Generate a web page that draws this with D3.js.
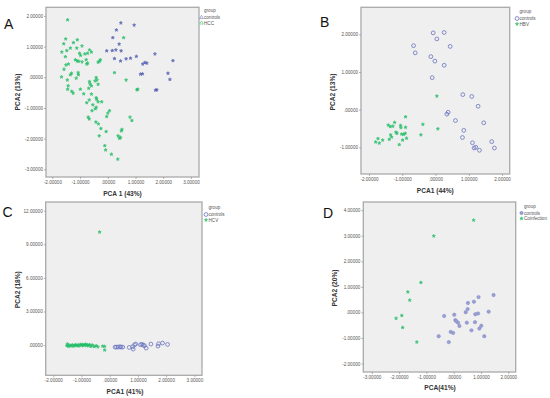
<!DOCTYPE html>
<html><head><meta charset="utf-8">
<script src="https://cdn.jsdelivr.net/npm/d3@7"></script>
<style>html,body{margin:0;padding:0;background:#fff;}svg{display:block;}</style>
</head><body>
<svg id="c" width="550" height="398"></svg>
<script>
// ---------- DATA ----------
const panelLetters = ["A", "B", "C", "D"];
const xTitles = ["PCA 1 (43%)", "PCA1 (44%)", "PCA1 (41%)", "PCA(41%)"];
const yTitles = ["PCA2 (13%)", "PCA2 (13%)", "PCA2 (18%)", "PCA2 (20%)"];
const groupNames = [["controls", "HCC"], ["controls", "HBV"], ["controls", "HCV"], ["controls", "Coinfection"]];

const aXTicks = [-2, -1, 0, 1, 2, 3];
const aYTicks = [2, 1, 0, -1, -2, -3];
const bXTicks = [-2, -1, 0, 1, 2];
const bYTicks = [2, 1, 0, -1];
const cXTicks = [-2, -1, 0, 1, 2, 3];
const cYTicks = [12, 9, 6, 3, 0];
const dXTicks = [-3, -2, -1, 0, 1, 2];
const dYTicks = [4, 3, 2, 1, 0, -1, -2];

const aControls = [[0.47,1.77],[0.95,1.70],[0.31,1.54],[0.18,1.29],[0.41,1.08],[-0.04,0.86],[0.16,0.87],[0.29,0.89],[0.48,0.86],[0.24,0.61],[0.46,0.53],[0.66,0.60],[0.82,0.62],[1.03,0.68],[1.70,0.76],[2.35,0.54],[1.26,0.43],[1.34,0.48],[1.41,0.46],[1.18,0.10],[1.25,0.11],[2.17,0.13],[2.24,-0.07],[1.72,-0.42],[1.77,-0.41]];
const aHCC = [[-1.45,1.87],[-1.52,1.25],[-1.10,1.22],[-1.59,1.09],[-1.24,1.13],[-1.35,0.95],[-1.12,0.95],[-0.93,1.02],[-1.48,0.87],[-1.66,0.82],[-0.66,0.89],[-0.59,0.82],[-0.73,0.78],[-1.02,0.78],[-0.98,0.71],[-0.83,0.76],[-1.53,0.67],[-1.17,0.57],[-1.11,0.53],[-1.05,0.52],[-0.78,0.57],[-0.73,0.46],[-0.76,0.43],[-0.93,0.50],[-1.51,0.40],[-1.42,0.43],[-0.27,0.57],[-0.30,0.52],[-0.35,0.49],[0.57,1.29],[-1.58,0.26],[-1.31,0.13],[-1.07,0.15],[-1.06,0.08],[-1.35,0.08],[-1.14,-0.03],[-1.67,0.01],[-1.46,-0.09],[-0.42,-0.01],[-0.39,-0.09],[-0.46,-0.12],[-0.66,-0.14],[-0.64,-0.22],[-0.59,-0.28],[-0.69,-0.36],[-0.35,-0.23],[-1.43,-0.28],[-1.45,-0.39],[-0.99,-0.39],[-1.30,-0.46],[-1.25,-0.52],[-0.87,-0.54],[-0.59,-0.55],[-0.76,-0.83],[-0.67,-0.74],[-0.40,-0.72],[-0.42,-0.67],[-0.35,-0.80],[-0.22,-0.80],[-0.54,-0.90],[-0.42,-0.98],[-0.57,-1.09],[-0.45,-1.03],[-0.71,-1.30],[-0.67,-1.36],[-0.43,-1.46],[-0.34,-1.52],[-0.25,-1.67],[-0.31,-1.91],[-0.06,-1.77],[0.00,-1.17],[0.06,-1.09],[-0.04,-1.28],[-0.11,-2.23],[-0.08,-2.37],[0.13,-2.51],[0.36,-2.67],[0.24,0.15],[0.66,-0.09],[1.08,-0.39],[1.05,-0.41],[0.80,-1.30],[0.87,-1.41],[0.37,-1.91],[0.42,-1.99],[0.46,-1.96],[0.51,-1.70],[0.49,-1.75]];

const bControls = [[-0.07,2.04],[0.26,2.05],[0.04,1.88],[0.44,1.68],[-0.66,1.70],[-0.61,1.51],[-0.14,1.41],[-0.02,1.29],[0.26,1.18],[-0.10,0.85],[0.82,0.40],[1.09,0.35],[1.28,0.09],[0.38,-0.07],[0.34,-0.12],[0.60,-0.29],[1.45,-0.35],[0.85,-0.55],[0.81,-0.74],[1.11,-0.88],[1.69,-0.85],[1.16,-1.02],[1.21,-1.00],[1.32,-1.08],[1.77,-1.02]];
const bHBV = [[0.04,0.36],[-0.90,-0.19],[-0.38,-0.39],[0.07,-0.51],[-0.44,-0.67],[-1.23,-0.34],[-1.42,-0.41],[-1.36,-0.45],[-1.28,-0.44],[-1.05,-0.42],[-1.04,-0.48],[-0.90,-0.47],[-1.19,-0.60],[-1.16,-0.63],[-1.35,-0.67],[-1.39,-0.79],[-1.02,-0.65],[-0.96,-0.66],[-0.91,-0.63],[-0.87,-0.76],[-0.99,-0.81],[-1.32,-0.73],[-1.09,-0.93],[-1.73,-0.77],[-1.80,-0.86],[-1.69,-0.89],[-1.59,-0.81]];

const cControls = [[0.19,-0.18],[0.24,-0.18],[0.30,-0.18],[0.36,-0.15],[0.40,-0.18],[0.46,-0.18],[0.69,-0.21],[0.81,-0.15],[0.83,-0.36],[0.88,0.03],[0.92,0.09],[1.09,0.03],[1.14,0.06],[1.19,0.00],[1.23,-0.06],[1.29,-0.27],[1.46,0.09],[1.71,-0.09],[1.73,0.12],[1.87,0.18],[2.05,0.06]];
const cHCV = [[-1.52,-0.05],[-1.50,0.10],[-1.46,-0.12],[-1.42,-0.02],[-1.37,-0.08],[-1.33,0.02],[-1.29,-0.10],[-1.25,-0.04],[-1.21,0.04],[-1.17,-0.06],[-1.13,0.00],[-1.09,-0.08],[-1.05,0.06],[-1.01,-0.02],[-0.97,0.05],[-0.94,-0.06],[-0.90,0.02],[-0.86,0.08],[-0.83,-0.04],[-0.79,0.03],[-0.75,-0.08],[-0.71,0.04],[-0.66,-0.12],[-0.61,0.00],[-0.55,-0.14],[-0.48,-0.06],[-0.42,-0.16],[-0.25,-0.10],[-0.18,-0.12],[-0.18,-0.45],[-0.36,10.09]];

const dControls = [[1.46,0.68],[0.91,0.60],[0.74,0.42],[0.52,0.37],[0.51,0.13],[0.44,0.01],[1.28,0.03],[0.79,-0.07],[0.89,-0.04],[-0.35,-0.14],[0.02,-0.09],[0.06,-0.30],[0.09,-0.34],[0.16,-0.40],[0.21,-0.53],[0.48,-0.40],[0.78,-0.38],[1.01,-0.52],[0.94,-0.63],[0.65,-0.70],[1.12,-0.93],[-0.55,-0.93],[-0.11,-0.76],[-0.02,-0.80],[-0.18,-1.16]];
const dCoinfection = [[0.73,3.61],[-0.73,2.99],[-1.20,1.17],[-1.68,0.80],[-1.61,0.48],[-1.90,-0.12],[-2.11,-0.23],[-1.87,-0.59],[-1.35,-1.16]];

// ---------- LAYOUT ----------
const svg = d3.select("#c");
const FONT = "'Liberation Sans', Arial, sans-serif";
const BLUE = "#4f5cb0", GREEN = "#22be66";

function fmt(v) {
  const s = Math.abs(v).toFixed(5);
  const t = s.startsWith("0") ? s.slice(1) : s;
  return (v < 0 ? "-" : "") + t;
}

const panels = [
  {letter: panelLetters[0], lx: 4, ly: 28.5, frame: [46, 7.3, 199, 177], xd: [-2.23, 3.29], yd: [-3.25, 2.28], xt: aXTicks, yt: aYTicks,
   xTitle: xTitles[0], yTitle: yTitles[0], xtPos: [122.5, 196], ytPos: [20, 92],
   legend: [200.5, 12], names: groupNames[0], ctrl: aControls, dis: aHCC, ctrlSym: "star", legSym: "tri"},
  {letter: panelLetters[1], lx: 320, ly: 27, frame: [361, 7.3, 509.7, 174], xd: [-2.24, 2.23], yd: [-1.71, 2.72], xt: bXTicks, yt: bYTicks,
   xTitle: xTitles[1], yTitle: yTitles[1], xtPos: [435.3, 192.5], ytPos: [334.5, 92],
   legend: [516, 13], names: groupNames[1], ctrl: bControls, dis: bHBV, ctrlSym: "ring", legSym: "ring"},
  {letter: panelLetters[2], lx: 2.5, ly: 216.5, frame: [45.7, 202, 202, 375.3], xd: [-2.27, 3.27], yd: [-2.7, 12.78], xt: cXTicks, yt: cYTicks,
   xTitle: xTitles[2], yTitle: yTitles[2], xtPos: [125, 393.5], ytPos: [19.5, 289.7],
   legend: [205, 209], names: groupNames[2], ctrl: cControls, dis: cHCV, ctrlSym: "ring", legSym: "ring"},
  {letter: panelLetters[3], lx: 323, ly: 217.5, frame: [363.3, 202, 515.7, 372], xd: [-3.31, 2.27], yd: [-2.33, 4.32], xt: dXTicks, yt: dYTicks,
   xTitle: xTitles[3], yTitle: yTitles[3], xtPos: [440, 390], ytPos: [336.5, 288],
   legend: [520.5, 207.5], names: groupNames[3], ctrl: dControls, dis: dCoinfection, ctrlSym: "dot", legSym: "dot"}
];

const starPath = d3.symbol().type(d3.symbolStar).size(3.2)();
const triPath = d3.symbol().type(d3.symbolTriangle).size(6)();

function drawMark(g, x, y, kind, color) {
  if (kind === "star") {
    g.append("path").attr("d", starPath).attr("transform", `translate(${x},${y})`).attr("fill", color).attr("stroke", color).attr("stroke-width", 0.6).attr("opacity", 0.9);
  } else if (kind === "ring") {
    g.append("circle").attr("cx", x).attr("cy", y).attr("r", 1.9).attr("fill", "none").attr("stroke", "#6f79c0").attr("stroke-width", 0.85);
  } else if (kind === "dot") {
    g.append("circle").attr("cx", x).attr("cy", y).attr("r", 1.7).attr("fill", "#9aa0d2").attr("stroke", "#7d85c6").attr("stroke-width", 0.5);
  } else if (kind === "tri") {
    g.append("path").attr("d", triPath).attr("transform", `translate(${x},${y})`).attr("fill", "none").attr("stroke", color).attr("stroke-width", 0.5);
  }
}

panels.forEach(p => {
  const [x0, y0, x1, y1] = p.frame;
  const g = svg.append("g");
  const xs = d3.scaleLinear().domain(p.xd).range([x0, x1]);
  const ys = d3.scaleLinear().domain(p.yd).range([y1, y0]);

  g.append("rect").attr("x", x0).attr("y", y0).attr("width", x1 - x0).attr("height", y1 - y0)
    .attr("fill", "#efefef").attr("stroke", "#a9a9a9").attr("stroke-width", 1.3);

  const xAxis = d3.axisBottom(xs).tickValues(p.xt).tickFormat(fmt).tickSize(2).tickPadding(1.5);
  const yAxis = d3.axisLeft(ys).tickValues(p.yt).tickFormat(fmt).tickSize(2).tickPadding(1);
  const gx = g.append("g").attr("transform", `translate(0,${y1})`).call(xAxis);
  const gy = g.append("g").attr("transform", `translate(${x0},0)`).call(yAxis);
  [gx, gy].forEach(a => {
    a.select(".domain").remove();
    a.selectAll(".tick line").attr("stroke", "#888").attr("stroke-width", 0.6);
    a.selectAll(".tick text").attr("fill", "#555").attr("font-size", 4.6).attr("font-family", FONT);
  });

  // points
  const pts = g.append("g");
  p.ctrl.forEach(d => drawMark(pts, xs(d[0]), ys(d[1]), p.ctrlSym, BLUE));
  p.dis.forEach(d => drawMark(pts, xs(d[0]), ys(d[1]), "star", GREEN));

  // titles
  g.append("text").attr("x", p.xtPos[0]).attr("y", p.xtPos[1]).attr("text-anchor", "middle")
    .attr("font-family", FONT).attr("font-weight", "bold").attr("font-size", 6.6).attr("fill", "#333").text(p.xTitle);
  g.append("text").attr("transform", `translate(${p.ytPos[0]},${p.ytPos[1]}) rotate(-90)`).attr("text-anchor", "middle")
    .attr("font-family", FONT).attr("font-weight", "bold").attr("font-size", 6.6).attr("fill", "#333").text(p.yTitle);

  // panel letter
  g.append("text").attr("x", p.lx).attr("y", p.ly).attr("font-family", FONT).attr("font-size", 14).attr("fill", "#111").text(p.letter);

  // legend
  const [lx, ly] = p.legend;
  g.append("text").attr("x", lx + 3.5).attr("y", ly).attr("font-family", FONT).attr("font-size", 4.6).attr("fill", "#555").text("group");
  p.names.forEach((n, i) => {
    const yy = ly + 7 + i * 5.5;
    const col = i === 0 ? BLUE : GREEN;
    if (i === 0) drawMark(g, lx + 1, yy - 1.5, p.legSym, col);
    else drawMark(g, lx + 1, yy - 1.5, p.legSym === "tri" ? "tri" : "star", col);
    g.append("text").attr("x", lx + 3.5).attr("y", yy).attr("font-family", FONT).attr("font-size", 4.6).attr("fill", "#555").text(n);
  });
});
</script>
</body></html>
